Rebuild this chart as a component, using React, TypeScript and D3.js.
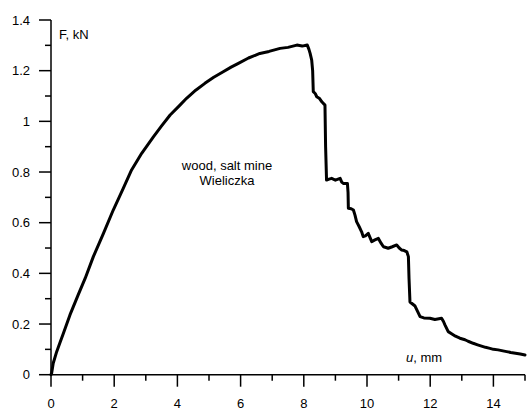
import React from "react";
import * as d3 from "d3";

const uValues = [
  0, 0.02, 0.07, 0.18, 0.28, 0.39, 0.6, 0.86, 1.08, 1.34, 1.66, 1.97, 2.29, 2.55, 2.87, 3.24,
  3.5, 3.77, 4.05, 4.29, 4.58, 4.87, 5.15, 5.45, 5.7, 5.93, 6.25, 6.61, 6.9, 7.25, 7.5, 7.78,
  7.95, 8.11, 8.16, 8.2, 8.25, 8.28, 8.3, 8.36, 8.41, 8.5, 8.57, 8.67, 8.69, 8.72, 8.8, 8.88,
  9.0, 9.15, 9.2, 9.25, 9.38, 9.4, 9.41, 9.5, 9.57, 9.62, 9.67, 9.75, 9.83, 9.88, 9.95, 10.04,
  10.1, 10.15, 10.25, 10.36, 10.45, 10.52, 10.6, 10.67, 10.8, 10.94, 11.02, 11.1, 11.18, 11.26,
  11.31, 11.33, 11.36, 11.45, 11.52, 11.6, 11.68, 11.8, 11.99, 12.15, 12.36, 12.42, 12.47, 12.57,
  12.7, 12.8, 12.94, 13.1, 13.2, 13.36, 13.5, 13.6, 13.75, 13.89, 14.0, 14.15, 14.3, 14.42,
  14.55, 14.7, 14.85, 15.0,
];
const fValues = [
  0, 0.006, 0.045, 0.091, 0.125, 0.163, 0.236, 0.315, 0.38, 0.466, 0.558, 0.65, 0.736, 0.808,
  0.874, 0.939, 0.982, 1.025, 1.06, 1.091, 1.123, 1.15, 1.174, 1.196, 1.214, 1.229, 1.25, 1.268,
  1.276, 1.288, 1.292, 1.301, 1.297, 1.301, 1.285, 1.268, 1.242, 1.2, 1.117, 1.11, 1.097, 1.09,
  1.077, 1.064, 0.9, 0.768, 0.772, 0.775, 0.768, 0.775, 0.76, 0.755, 0.755, 0.72, 0.657, 0.655,
  0.65, 0.63, 0.604, 0.585, 0.564, 0.545, 0.548, 0.558, 0.54, 0.525, 0.532, 0.538, 0.518, 0.505,
  0.502, 0.499, 0.505, 0.512, 0.5, 0.492, 0.49, 0.485, 0.466, 0.38, 0.287, 0.278, 0.271, 0.25,
  0.229, 0.224, 0.223, 0.218, 0.223, 0.21, 0.196, 0.17, 0.16, 0.152, 0.144, 0.138, 0.132, 0.124,
  0.118, 0.114, 0.108, 0.104, 0.1, 0.098, 0.094, 0.091, 0.088, 0.085, 0.082, 0.078,
];

const xMajor = [0, 2, 4, 6, 8, 10, 12, 14];
const xMinor = [1, 3, 5, 7, 9, 11, 13, 15];
const yMajor = [0, 0.2, 0.4, 0.6, 0.8, 1, 1.2, 1.4];
const yMinor = [0.1, 0.3, 0.5, 0.7, 0.9, 1.1, 1.3];

const annotationLines = ["wood, salt mine", "Wieliczka"];

export default function App() {
  const W = 527;
  const H = 410;
  const x = d3.scaleLinear().domain([0, 15]).range([51, 525]);
  const y = d3.scaleLinear().domain([0, 1.4]).range([374.7, 20]);
  const pts: [number, number][] = uValues.map((u, i) => [u, fValues[i]]);
  const line = d3
    .line<[number, number]>()
    .x((d) => x(d[0]))
    .y((d) => y(d[1]));
  const font = "'Liberation Sans', Arial, sans-serif";
  const fmt = (v: number) => String(+v.toFixed(1));
  const x0 = x(0);
  const y0 = y(0);

  return (
    <svg
      width={W}
      height={H}
      style={{ position: "absolute", left: 0, top: 0, background: "#fff" }}
      fontFamily={font}
      fontSize={13}
    >
      <rect x={0} y={0} width={W} height={H} fill="#fff" />
      {/* axes */}
      <line x1={x0} x2={x0} y1={y(1.4)} y2={y0} stroke="#000" strokeWidth={1.5} />
      <line x1={x0} x2={x(15)} y1={y0} y2={y0} stroke="#000" strokeWidth={1.5} />
      {yMajor.map((v) => (
        <g key={"ym" + v}>
          <line x1={x0 - 12} x2={x0} y1={y(v)} y2={y(v)} stroke="#000" strokeWidth={1.5} />
          <text x={30} y={y(v)} dy="0.35em" textAnchor="end" fill="#000">
            {fmt(v)}
          </text>
        </g>
      ))}
      {yMinor.map((v) => (
        <line key={"yn" + v} x1={x0 - 6} x2={x0} y1={y(v)} y2={y(v)} stroke="#000" strokeWidth={1.5} />
      ))}
      {xMajor.map((v) => (
        <g key={"xm" + v}>
          <line x1={x(v)} x2={x(v)} y1={y0} y2={y0 + 12} stroke="#000" strokeWidth={1.5} />
          <text x={x(v)} y={408} textAnchor="middle" fill="#000">
            {fmt(v)}
          </text>
        </g>
      ))}
      {xMinor.map((v) => (
        <line key={"xn" + v} x1={x(v)} x2={x(v)} y1={y0} y2={y0 + 6} stroke="#000" strokeWidth={1.5} />
      ))}
      {/* axis titles */}
      <text x={59} y={39} fill="#000">
        F, kN
      </text>
      <text x={406} y={362} fill="#000">
        <tspan fontStyle="italic">u</tspan>, mm
      </text>
      {/* annotation */}
      {annotationLines.map((t, i) => (
        <text key={t} x={227} y={170 + i * 15} textAnchor="middle" fill="#000">
          {t}
        </text>
      ))}
      {/* curve */}
      <path
        d={line(pts) || ""}
        fill="none"
        stroke="#000"
        strokeWidth={3}
        strokeLinejoin="round"
        strokeLinecap="round"
      />
    </svg>
  );
}
